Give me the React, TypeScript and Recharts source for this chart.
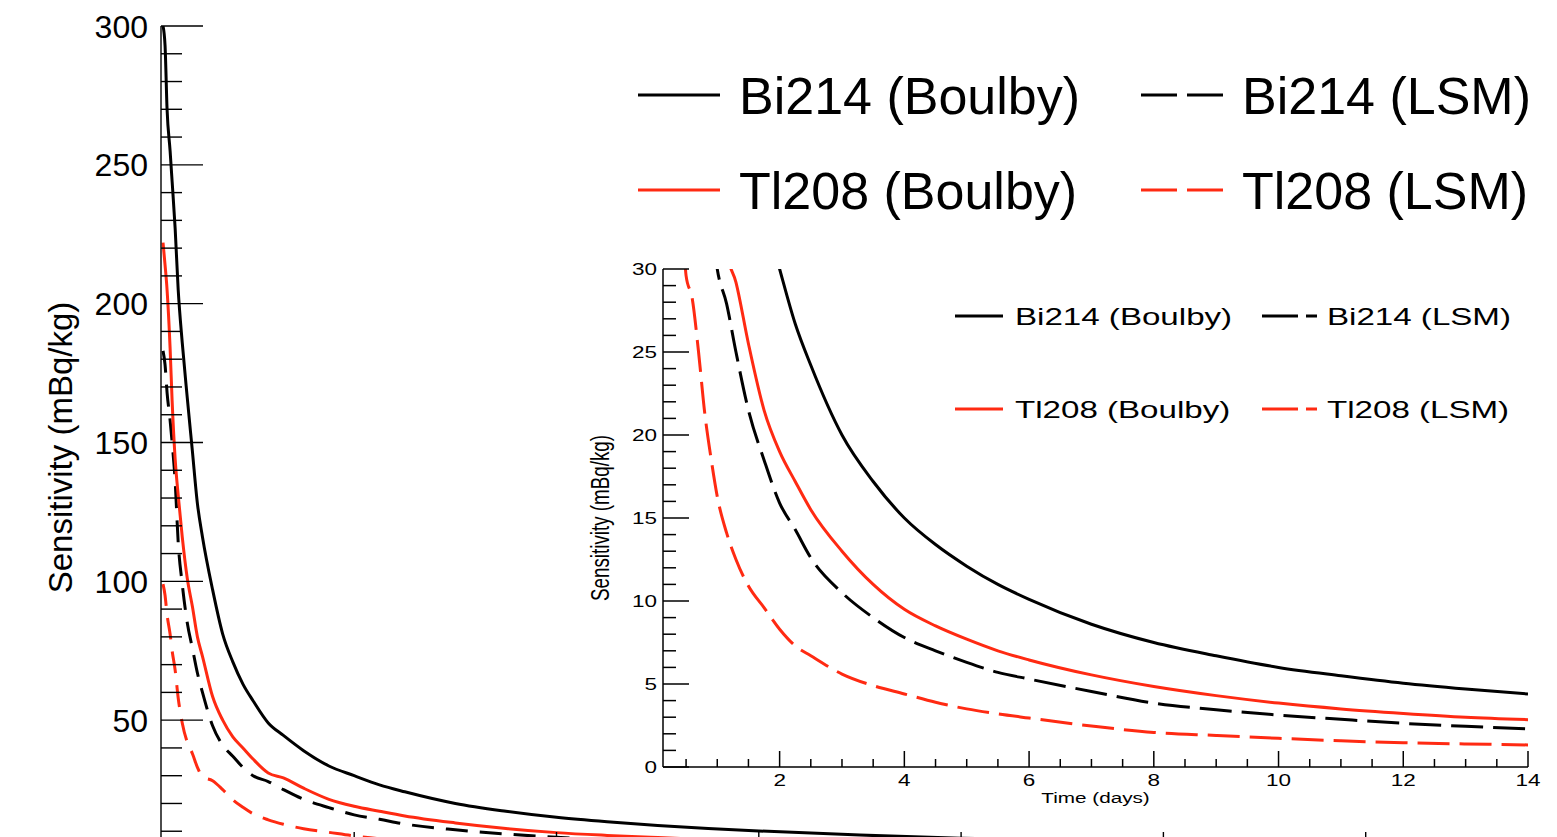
import { LineChart, Line, XAxis, YAxis } from "recharts";

// time after start of measurement (days)
const TIME = [
  0.11, 0.13, 0.15, 0.18, 0.2, 0.23, 0.26, 0.3, 0.35, 0.4, 0.45, 0.5, 0.6, 0.7, 0.8, 0.9, 1.0, 1.15, 1.3, 1.5,
  1.75, 2.0, 2.25, 2.5, 3.0, 3.5, 4.0, 4.5, 5.0, 5.5, 6.0, 7.0, 8.0, 9.0, 10.0, 11.0, 12.0, 13.0, 14.0,
];

// sensitivity (mBq/kg)
const BI214_BOULBY = [
  300, 293, 270, 255, 244, 227, 205, 186, 166, 147, 128, 116, 97, 81, 71, 63, 57, 49, 44.5, 39,
  33.5, 30, 26.7, 24.2, 20, 17.2, 15, 13.4, 12.1, 11, 10.1, 8.6, 7.5, 6.7, 6.0, 5.5, 5.05, 4.7, 4.4,
];
const BI214_LSM = [
  183, 178, 168, 158, 150, 136, 114, 99, 85, 76, 67, 60, 48, 41, 37, 33, 30, 27.9, 25, 21.5,
  18.5, 15.9, 14.3, 12.6, 10.5, 9.0, 7.8, 7.0, 6.3, 5.7, 5.3, 4.55, 3.85, 3.45, 3.13, 2.87, 2.63, 2.45, 2.29,
];
const TL208_BOULBY = [
  222, 214, 205, 184, 165, 144, 131, 116, 101, 91, 80, 73, 58.5, 50, 44, 40, 36, 31, 29.2, 25.5,
  21.5, 19, 17.2, 15.5, 13, 11, 9.5, 8.5, 7.7, 7.0, 6.45, 5.55, 4.85, 4.3, 3.85, 3.5, 3.23, 3.0, 2.85,
];
const TL208_LSM = [
  99, 95, 88, 81, 75, 68, 58, 49, 42, 38, 33, 29.6, 28.2, 25, 21.3, 18.6, 16.3, 14.1, 12.5, 10.9,
  9.6, 8.3, 7.3, 6.7, 5.6, 4.9, 4.4, 3.9, 3.5, 3.2, 2.95, 2.47, 2.08, 1.9, 1.73, 1.58, 1.46, 1.39, 1.33,
];

const MAIN_Y_TICKS = [
  0, 10, 20, 30, 40, 50, 60, 70, 80, 90, 100, 110, 120, 130, 140, 150, 160, 170, 180, 190, 200,
  210, 220, 230, 240, 250, 260, 270, 280, 290, 300,
];
const INSET_Y_TICKS = [
  0, 1, 2, 3, 4, 5, 6, 7, 8, 9, 10, 11, 12, 13, 14, 15, 16, 17, 18, 19, 20, 21, 22, 23, 24, 25, 26, 27, 28, 29, 30,
];
const X_TICKS = [
  0.5, 1, 1.5, 2, 2.5, 3, 3.5, 4, 4.5, 5, 5.5, 6, 6.5, 7, 7.5, 8, 8.5, 9, 9.5, 10, 10.5, 11, 11.5, 12, 12.5, 13,
  13.5, 14,
];

const RED = "#ff2a12";
const FONT = "'Liberation Sans', Arial, Helvetica, sans-serif";
const STRETCH = 1.38; // inset text is horizontally stretched

const SERIES = [
  { key: "biBoulby", name: "Bi214 (Boulby)", color: "#000", dashed: false },
  { key: "biLSM", name: "Bi214 (LSM)", color: "#000", dashed: true },
  { key: "tlBoulby", name: "Tl208 (Boulby)", color: RED, dashed: false },
  { key: "tlLSM", name: "Tl208 (LSM)", color: RED, dashed: true },
];

const data = TIME.map((t, i) => ({
  t,
  biBoulby: BI214_BOULBY[i],
  biLSM: BI214_LSM[i],
  tlBoulby: TL208_BOULBY[i],
  tlLSM: TL208_LSM[i],
}));

const isMultiple = (v: number, m: number) => Math.abs(v / m - Math.round(v / m)) < 1e-6;

// the bottom of the main frame is cut off, so its "0" label is not drawn
function MainYTick({ x, y, payload }: any) {
  const v = payload.value;
  const major = isMultiple(v, 50);
  const ax = x + 13;
  return (
    <g>
      <line x1={ax} x2={ax + (major ? 42 : 21)} y1={y} y2={y} stroke="#000" strokeWidth={1.4} />
      {major && v > 0 && (
        <text x={x} y={y} dy="0.36em" textAnchor="end" fontSize={32} fill="#000" fontFamily={FONT}>
          {v}
        </text>
      )}
    </g>
  );
}

// main x axis sits below the visible area: only the inward tick marks show
function MainXTick({ x, y, payload }: any) {
  const major = isMultiple(payload.value, 2);
  const ay = y - 10;
  return <line x1={x} x2={x} y1={ay} y2={ay - (major ? 27 : 14)} stroke="#000" strokeWidth={1.4} />;
}

function MainYTitle({ viewBox }: any) {
  const cx = viewBox.x + 60;
  const cy = viewBox.y + viewBox.height / 2 + 5;
  return (
    <text
      transform={`translate(${cx},${cy}) rotate(-90)`}
      dy="0.36em"
      textAnchor="middle"
      fontSize={33}
      fill="#000"
      fontFamily={FONT}
    >
      Sensitivity (mBq/kg)
    </text>
  );
}

function InsetYTick({ x, y, payload }: any) {
  const v = payload.value;
  const major = isMultiple(v, 5);
  const ax = x + 6;
  return (
    <g>
      <line x1={ax} x2={ax + (major ? 26 : 13)} y1={y} y2={y} stroke="#000" strokeWidth={1.5} />
      {major && (
        <text
          transform={`translate(${x},${y}) scale(${STRETCH},1)`}
          dy="0.36em"
          textAnchor="end"
          fontSize={16.3}
          fill="#000"
          fontFamily={FONT}
        >
          {v}
        </text>
      )}
    </g>
  );
}

function InsetXTick({ x, y, payload }: any) {
  const v = payload.value;
  const major = isMultiple(v, 2);
  const ay = y - 7;
  return (
    <g>
      <line x1={x} x2={x} y1={ay} y2={ay - (major ? 16 : 8)} stroke="#000" strokeWidth={1.5} />
      {major && (
        <text
          transform={`translate(${x},${y}) scale(${STRETCH},1)`}
          dy="0.72em"
          textAnchor="middle"
          fontSize={16.3}
          fill="#000"
          fontFamily={FONT}
        >
          {v}
        </text>
      )}
    </g>
  );
}

function InsetYTitle({ viewBox }: any) {
  const cx = viewBox.x + 40;
  const cy = viewBox.y + viewBox.height / 2;
  return (
    <text
      transform={`translate(${cx},${cy}) scale(${STRETCH},1) rotate(-90)`}
      dy="0.36em"
      textAnchor="middle"
      fontSize={18.8}
      fill="#000"
      fontFamily={FONT}
    >
      Sensitivity (mBq/kg)
    </text>
  );
}

function InsetXTitle({ viewBox }: any) {
  const cx = viewBox.x + viewBox.width / 2;
  const cy = viewBox.y + 36;
  return (
    <text
      transform={`translate(${cx},${cy}) scale(${STRETCH},1)`}
      textAnchor="middle"
      fontSize={15}
      fill="#000"
      fontFamily={FONT}
    >
      Time (days)
    </text>
  );
}

const MAIN_LEGEND = {
  fontSize: 52,
  stretch: 1,
  rows: [95, 190],
  cols: [
    { line: [638, 720], text: 739 },
    { line: [1141, 1223], text: 1242 },
  ],
  dash: "36 10",
};
const INSET_LEGEND = {
  fontSize: 24,
  stretch: STRETCH,
  rows: [316, 409],
  cols: [
    { line: [955, 1003], text: 1015 },
    { line: [1262, 1317], text: 1327 },
  ],
  dash: "36 8",
};

function LegendBlock({ cfg }: { cfg: typeof MAIN_LEGEND }) {
  return (
    <g>
      {SERIES.map((s, i) => {
        const row = cfg.rows[Math.floor(i / 2)];
        const col = cfg.cols[i % 2];
        return (
          <g key={s.key}>
            <line
              x1={col.line[0]}
              x2={col.line[1]}
              y1={row}
              y2={row}
              stroke={s.color}
              strokeWidth={3}
              strokeDasharray={s.dashed ? cfg.dash : undefined}
            />
            <text
              transform={`translate(${col.text},${row}) scale(${cfg.stretch},1)`}
              dy="0.36em"
              fontSize={cfg.fontSize}
              fill="#000"
              fontFamily={FONT}
            >
              {s.name}
            </text>
          </g>
        );
      })}
    </g>
  );
}

export default function App() {
  return (
    <div
      style={{
        position: "absolute",
        left: 0,
        top: 0,
        width: 1557,
        height: 837,
        overflow: "hidden",
        background: "#fff",
        fontFamily: FONT,
      }}
    >
      <div style={{ position: "absolute", left: 0, top: 0 }}>
        <LineChart width={1600} height={900} data={data} margin={{ top: 26, right: 32, bottom: 11, left: 0 }}>
          <XAxis
            dataKey="t"
            type="number"
            domain={[0.09, 14]}
            allowDataOverflow
            ticks={X_TICKS}
            interval={0}
            height={30}
            tickSize={0}
            tickMargin={10}
            tick={MainXTick}
            axisLine={{ stroke: "#000", strokeWidth: 1.4 }}
          />
          <XAxis
            xAxisId="top"
            orientation="top"
            type="number"
            domain={[0.09, 14]}
            height={0}
            tick={false}
            tickLine={false}
            axisLine={{ stroke: "#000", strokeWidth: 1.4 }}
          />
          <YAxis
            type="number"
            domain={[0, 300]}
            allowDataOverflow
            ticks={MAIN_Y_TICKS}
            interval={0}
            width={161}
            tickSize={0}
            tickMargin={13}
            tick={MainYTick}
            axisLine={{ stroke: "#000", strokeWidth: 1.4 }}
            label={{ content: (p: any) => <MainYTitle viewBox={p.viewBox} /> }}
          />
          {SERIES.map((s) => (
            <Line
              key={s.key}
              type="monotone"
              dataKey={s.key}
              name={s.name}
              stroke={s.color}
              strokeWidth={3}
              strokeDasharray={s.dashed ? "22 12" : undefined}
              dot={false}
              isAnimationActive={false}
            />
          ))}
        </LineChart>
      </div>

      <div style={{ position: "absolute", left: 560, top: 255 }}>
        <LineChart width={1000} height={580} data={data} margin={{ top: 14, right: 32, bottom: 18, left: 0 }}>
          <XAxis
            dataKey="t"
            type="number"
            domain={[0.13, 14]}
            allowDataOverflow
            ticks={X_TICKS}
            interval={0}
            height={50}
            tickSize={0}
            tickMargin={7}
            tick={InsetXTick}
            axisLine={{ stroke: "#000", strokeWidth: 1.5 }}
            label={{ content: (p: any) => <InsetXTitle viewBox={p.viewBox} /> }}
          />
          <XAxis
            xAxisId="top"
            orientation="top"
            type="number"
            domain={[0.13, 14]}
            height={0}
            tick={false}
            tickLine={false}
            axisLine={{ stroke: "#000", strokeWidth: 1.5 }}
          />
          <YAxis
            type="number"
            domain={[0, 30]}
            allowDataOverflow
            ticks={INSET_Y_TICKS}
            interval={0}
            width={103}
            tickSize={0}
            tickMargin={6}
            tick={InsetYTick}
            axisLine={{ stroke: "#000", strokeWidth: 1.5 }}
            label={{ content: (p: any) => <InsetYTitle viewBox={p.viewBox} /> }}
          />
          <YAxis
            yAxisId="right"
            orientation="right"
            type="number"
            domain={[0, 30]}
            width={0}
            tick={false}
            tickLine={false}
            axisLine={{ stroke: "#000", strokeWidth: 1.5 }}
          />
          {SERIES.map((s) => (
            <Line
              key={s.key}
              type="monotone"
              dataKey={s.key}
              name={s.name}
              stroke={s.color}
              strokeWidth={3}
              strokeDasharray={s.dashed ? "32 10" : undefined}
              dot={false}
              isAnimationActive={false}
            />
          ))}
        </LineChart>
      </div>

      <svg
        width={1557}
        height={837}
        style={{ position: "absolute", left: 0, top: 0, pointerEvents: "none" }}
      >
        <LegendBlock cfg={MAIN_LEGEND} />
        <LegendBlock cfg={INSET_LEGEND} />
      </svg>
    </div>
  );
}
